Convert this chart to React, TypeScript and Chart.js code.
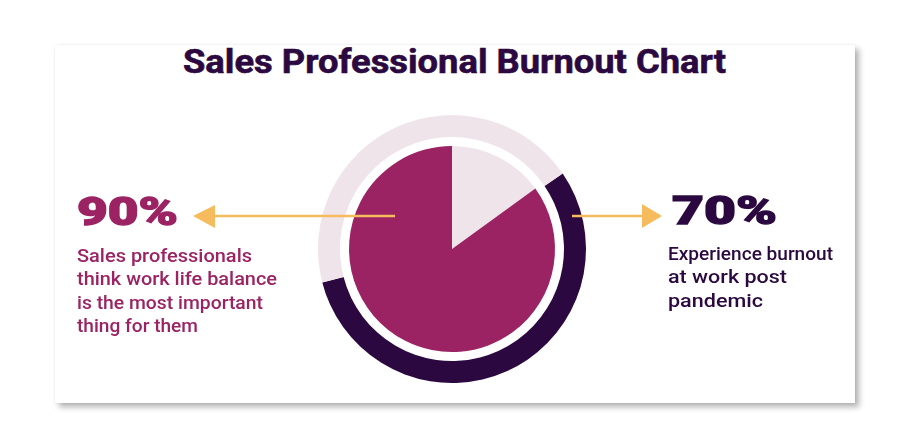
import React, { useEffect, useLayoutEffect, useRef } from "react";
import { Chart, registerables } from "chart.js";

Chart.register(...registerables);

// ---- data ----
const title = "Sales Professional Burnout Chart";
const pieLabels = ["Other priorities", "Work life balance most important"];
const pieValues = [15, 85];
const ringLabels = ["Burnout post pandemic", "No burnout"];
const ringValues = [55.5, 44.5];
const ringStartDeg = 55.7;
const leftStat = "90%";
const leftLines = ["Sales professionals", "think work life balance", "is the most important", "thing for them"];
const leftLineWidths = [175, 200, 186, 121];
const rightStat = "70%";
const rightLines = ["Experience burnout", "at work post", "pandemic"];
const rightLineWidths = [165, 119, 95];

// ---- styles ----
const MAGENTA = "#9c2363";
const LIGHT = "#f0e4eb";
const DARK = "#2b0940";
const GOLD = "#f6bb5c";
const FONT = "Roboto, 'Noto Sans', sans-serif";

type FitProps = {
  text: string;
  left: number;
  top: number;
  width: number;
  size: number;
  weight: number;
  color: string;
  stroke?: number;
};

function Fit({ text, left, top, width, size, weight, color, stroke }: FitProps) {
  const ref = useRef<HTMLSpanElement>(null);
  useLayoutEffect(() => {
    const el = ref.current;
    if (!el) return;
    el.style.transform = "none";
    const w = el.getBoundingClientRect().width;
    if (w > 0) el.style.transform = `scaleX(${width / w})`;
  }, [text, width, size, weight]);
  return (
    <span
      ref={ref}
      style={{
        position: "absolute",
        left,
        top,
        fontSize: size,
        fontWeight: weight,
        color,
        fontFamily: FONT,
        lineHeight: 1,
        whiteSpace: "nowrap",
        transformOrigin: "0 0",
        display: "inline-block",
        WebkitTextStroke: stroke ? `${stroke}px ${color}` : undefined,
      }}
    >
      {text}
    </span>
  );
}

export default function App() {
  const canvasRef = useRef<HTMLCanvasElement>(null);

  useEffect(() => {
    const canvas = canvasRef.current;
    if (!canvas) return;
    const chart = new Chart(canvas, {
      type: "doughnut",
      data: {
        labels: [...ringLabels, ...pieLabels],
        datasets: [
          {
            label: "Burnout",
            data: ringValues,
            backgroundColor: [DARK, LIGHT],
            borderWidth: 0,
            weight: 22,
            rotation: ringStartDeg,
          } as any,
          {
            label: "gap",
            data: [1],
            backgroundColor: ["rgba(0,0,0,0)"],
            borderWidth: 0,
            weight: 9,
          } as any,
          {
            label: "Work life balance",
            data: pieValues,
            backgroundColor: [LIGHT, MAGENTA],
            borderWidth: 0,
            weight: 103,
          } as any,
        ],
      },
      options: {
        responsive: false,
        maintainAspectRatio: false,
        animation: false,
        events: [],
        cutout: 0,
        radius: 134,
        layout: { padding: 0 },
        plugins: {
          legend: { display: false },
          tooltip: { enabled: false },
          title: { display: false },
        },
      } as any,
    });
    return () => chart.destroy();
  }, []);

  const bodySize = 19;
  const lineGap = 23.3;

  return (
    <div
      style={{
        position: "fixed",
        left: 0,
        top: 0,
        width: 910,
        height: 429,
        background: "#ffffff",
        overflow: "hidden",
      }}
    >
      <div
        style={{
          position: "absolute",
          left: 55,
          top: 45,
          width: 800,
          height: 358,
          background: "#ffffff",
          boxShadow: "4px 4px 6px rgba(0,0,0,0.3), 0 0 2px rgba(0,0,0,0.08)",
        }}
      />
      <Fit text={title} left={183} top={44} width={543} size={34} weight={700} color={DARK} stroke={0.6} />

      <canvas
        ref={canvasRef}
        width={300}
        height={300}
        style={{ position: "absolute", left: 302, top: 99, width: 300, height: 300 }}
      />

      <svg
        width={910}
        height={429}
        style={{ position: "absolute", left: 0, top: 0, pointerEvents: "none" }}
      >
        <line x1={395} y1={216} x2={212} y2={216} stroke={GOLD} strokeWidth={2.5} />
        <polygon points="193,216 215,205 215,228" fill={GOLD} />
        <line x1={572} y1={216} x2={645} y2={216} stroke={GOLD} strokeWidth={2.5} />
        <polygon points="662,216 642,204 642,228" fill={GOLD} />
      </svg>

      <Fit text={leftStat} left={77} top={193} width={101} size={39} weight={900} color={MAGENTA} stroke={1.3} />
      {leftLines.map((t, i) => (
        <Fit
          key={"l" + i}
          text={t}
          left={77}
          top={262 - 16 + i * lineGap}
          width={leftLineWidths[i]}
          size={bodySize}
          weight={500}
          color={MAGENTA}
        />
      ))}

      <Fit text={rightStat} left={672} top={191.5} width={105} size={39} weight={900} color={DARK} stroke={1.3} />
      {rightLines.map((t, i) => (
        <Fit
          key={"r" + i}
          text={t}
          left={668}
          top={260 - 16 + i * lineGap}
          width={rightLineWidths[i]}
          size={bodySize}
          weight={500}
          color={DARK}
        />
      ))}
    </div>
  );
}
